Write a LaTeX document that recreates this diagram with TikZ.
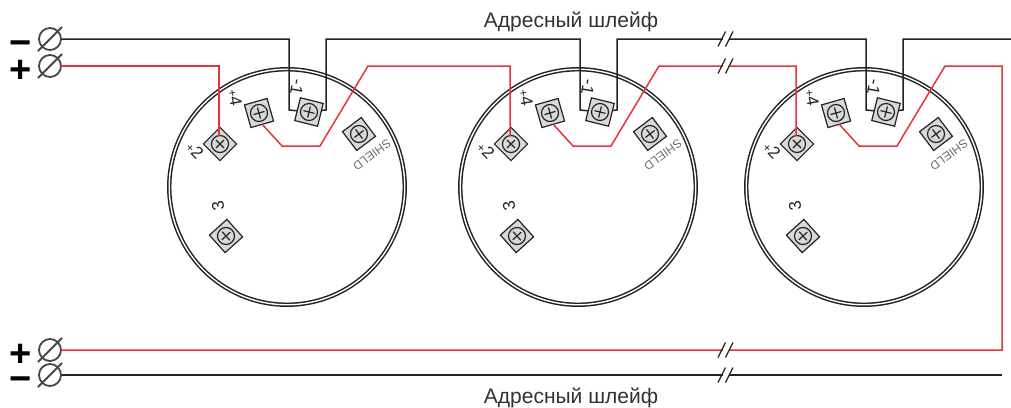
\documentclass[tikz,border=0pt]{standalone}
\usepackage{fontspec}
\setmainfont{Liberation Sans}
\usetikzlibrary{backgrounds}

\begin{document}
\begin{tikzpicture}[x=1pt,y=-1pt,
	 wire black/.style={draw=wireblack,line width=1.5pt},
	 wire red/.style={draw=wirered,line width=1.5pt},
	 body/.style={circle,draw=wireblack,line width=1.5pt,double=white,double distance=1.4pt,minimum size=235.5pt,inner sep=0pt},
	 screw/.style={rectangle,draw=wireblack,fill=screwgray,line width=1.2pt,minimum size=23.5pt,inner sep=0pt,outer sep=0pt},
	 screw line/.style={draw=wireblack,line width=1.2pt},
	 clamp/.style={circle,draw=clampgray,line width=1.8pt,minimum size=22pt,inner sep=0pt,outer sep=0pt},
	 clamp line/.style={draw=clampgray,line width=1.8pt,shorten >=-6pt,shorten <=-6pt},
	 sign/.style={font=\fontsize{38}{38}\selectfont\bfseries,inner sep=0pt},
	 pin/.style={font=\fontsize{17}{17}\selectfont,text=wireblack,inner sep=0pt},
	 title/.style={font=\fontsize{21}{22}\selectfont,text=titlegray,inner sep=0pt},
	 cut/.style={fill=white,minimum width=6pt,minimum height=3pt,inner sep=0pt},
	 cut line/.style={draw=wireblack,line width=1.2pt}]

	\definecolor{wireblack}{RGB}{35,35,35}
	\definecolor{wirered}{RGB}{232,50,60}
	\definecolor{screwgray}{RGB}{217,217,217}
	\definecolor{clampgray}{RGB}{70,70,70}
	\definecolor{titlegray}{RGB}{50,50,50}
	\definecolor{shieldgray}{RGB}{110,110,110}

	\useasboundingbox (0,0) rectangle (1011,407);

	% clamps on the left
	\foreach \n/\y in {topminus/39,topplus/66,lowplus/350,lowminus/375} {
		\draw (50,\y) node[clamp] (\n) {};
		\draw[clamp line] (\n.225) -- (\n.45);
	}
	\draw (21,48) node[sign] (stm) {−};
	\draw (21,71) node[sign] (stp) {+};
	\draw (21,355) node[sign] (sbp) {+};
	\draw (21,384) node[sign] (sbm) {−};

	\draw (571,22) node[title] (ttop) {Адресный шлейф};
	\draw (571,398) node[title] (tbot) {Адресный шлейф};

	\coordinate (topend) at (1011,39);
	\coordinate (botend) at (1002,350);
	\coordinate (botblack) at (1002,375);
	\coordinate (redcorner) at (1002,66);

	% three detectors
	\foreach \d/\x in {a/287,b/578,c/864} {
		\begin{scope}[shift={(\x,187)}]
			\begin{scope}[on background layer]
				\draw (0,0) node[body] (\d body) {};
			\end{scope}
			\foreach \n/\px/\py/\r in {2/-67/-43/45,4/-28/-74/16,1/22/-75/-14,s/72/-53/37,3/-61/49/42} {
				\draw (\px,\py) node[screw,rotate=\r] (\d\n) {};
				\draw[screw line] (\d\n) circle (8.5pt);
				\draw[screw line,shorten >=6pt,shorten <=6pt] (\d\n.north) -- (\d\n.south);
				\draw[screw line,shorten >=6pt,shorten <=6pt] (\d\n.east) -- (\d\n.west);
			}
			\draw (-92,-37) node[pin,rotate=-45] (\d p2) {{\fontsize{12}{12}\selectfont +}2};
			\draw (-52,-89) node[pin,rotate=-80] (\d p4) {{\fontsize{12}{12}\selectfont +}4};
			\draw (10,-100) node[pin,rotate=-100] (\d p1) {-1};
			\draw (-69,19) node[pin,rotate=100] (\d p3) {3};
			\draw (85,-32) node[pin,rotate=216,font=\fontsize{12}{12}\selectfont,text=shieldgray] (\d ps) {SHIELD};
			\coordinate (\d l) at (2,-77);
			\coordinate (\d r) at (39,-77);
			\coordinate (\d w) at (-68,-51);
			\coordinate (\d k) at (-5,-41);
			\coordinate (\d m) at (33,-41);
			\coordinate (\d n) at (81,-121);
		\end{scope}
	}

	% black line, under the screws
	\begin{scope}[on background layer]
		\path[wire black] (topminus) -- (topminus -| al) -- (al) -- (a1);
		\foreach \u/\v in {a/b,b/c} {
			\path[wire black] (\u1) -- (\u r) -- (\u r |- topminus) -- (\v l |- topminus) -- (\v l) -- (\v1);
		}
		\path[wire black] (c1) -- (cr) -- (cr |- topminus) -- (topend);
		\path[wire black] (lowminus) -- (botblack);
	\end{scope}

	% red line
	\path[wire red] (topplus) -- (topplus -| aw) -- (aw);
	\foreach \u/\v in {a/b,b/c} {
		\path[wire red] (\u4.south) -- (\u k) -- (\u m) -- (\u n) -- (\u n -| \v w) -- (\v w);
	}
	\path[wire red] (c4.south) -- (ck) -- (cm) -- (cn) -- (redcorner) -- (botend) -- (lowplus);

	% breaks in the lines
	\foreach \n/\y in {c1/39,c2/66,c3/350,c4/375} {
		\draw (725.5,\y) node[cut] (cut\n) {};
		\draw[cut line] (718,\y+7.5) -- (725.5,\y-7.5);
		\draw[cut line] (725.5,\y+7.5) -- (733,\y-7.5);
	}

\end{tikzpicture}
\end{document}
